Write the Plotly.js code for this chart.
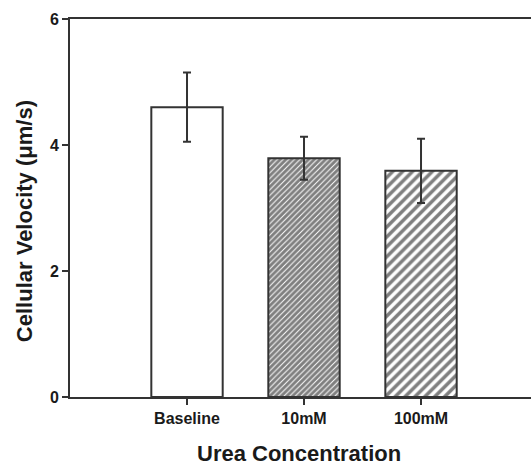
<!DOCTYPE html>
<html>
<head>
<meta charset="utf-8">
<script src="https://cdn.plot.ly/plotly-3.0.1.min.js"></script>
<style>html,body{margin:0;padding:0;background:#fff;}#chart{width:531px;height:467px;}</style>
</head>
<body>
<div id="chart"></div>
<script>
const categories = ["Baseline", "10mM", "100mM"];
const velocity = [4.60, 3.79, 3.59];
const errors = [0.55, 0.34, 0.51];
const yTicks = [0, 2, 4, 6];
const xTitle = "Urea Concentration";
const yTitle = "Cellular Velocity (μm/s)";

const patternShapes = ["", "/", "/"];
const patternSizes = [8, 4, 7];
const patternSolidity = [0.3, 0.75, 0.5];

const trace = {
  type: "bar",
  x: categories,
  y: velocity,
  width: 0.61,
  marker: {
    color: "#ffffff",
    line: {color: "#333333", width: 2},
    pattern: {shape: patternShapes, size: patternSizes, solidity: patternSolidity, fgcolor: "#000000", bgcolor: "#ffffff", fillmode: "overlay"}
  },
  error_y: {type: "data", array: errors, visible: true, color: "#333333", thickness: 2, width: 4},
  hoverinfo: "none"
};

const FONT = "Liberation Sans, Arial, sans-serif";

const layout = {
  width: 531, height: 467,
  margin: {l: 70, r: 0, t: 19, b: 70},
  paper_bgcolor: "#ffffff", plot_bgcolor: "#ffffff",
  showlegend: false,
  font: {family: FONT, color: "#1a1a1a"},
  xaxis: {
    type: "category",
    range: [-1, 2.94],
    showline: true, linecolor: "#333333", linewidth: 2, mirror: true,
    ticks: "outside", ticklen: 6, tickwidth: 2, tickcolor: "#333333",
    showgrid: false, zeroline: false,
    tickfont: {size: 16, family: FONT, weight: "bold"}
  },
  yaxis: {
    range: [0, 6],
    tickvals: yTicks,
    ticktext: yTicks.map(String),
    showline: true, linecolor: "#333333", linewidth: 2,
    ticks: "outside", ticklen: 6, tickwidth: 2, tickcolor: "#333333",
    showgrid: false, zeroline: false,
    tickfont: {size: 16, family: FONT, weight: "bold"}
  },
  annotations: [
    {text: "<b>" + xTitle + "</b>", xref: "paper", yref: "paper", x: 0.497, y: -0.15,
     xanchor: "center", yanchor: "middle", showarrow: false, font: {size: 22, family: FONT, color: "#1a1a1a"}},
    {text: "<b>" + yTitle + "</b>", xref: "paper", yref: "paper", x: -0.1, y: 0.465,
     xanchor: "center", yanchor: "middle", textangle: -90, showarrow: false, font: {size: 22, family: FONT, color: "#1a1a1a"}}
  ]
};

Plotly.newPlot("chart", [trace], layout, {displayModeBar: false, staticPlot: true});
</script>
</body>
</html>
